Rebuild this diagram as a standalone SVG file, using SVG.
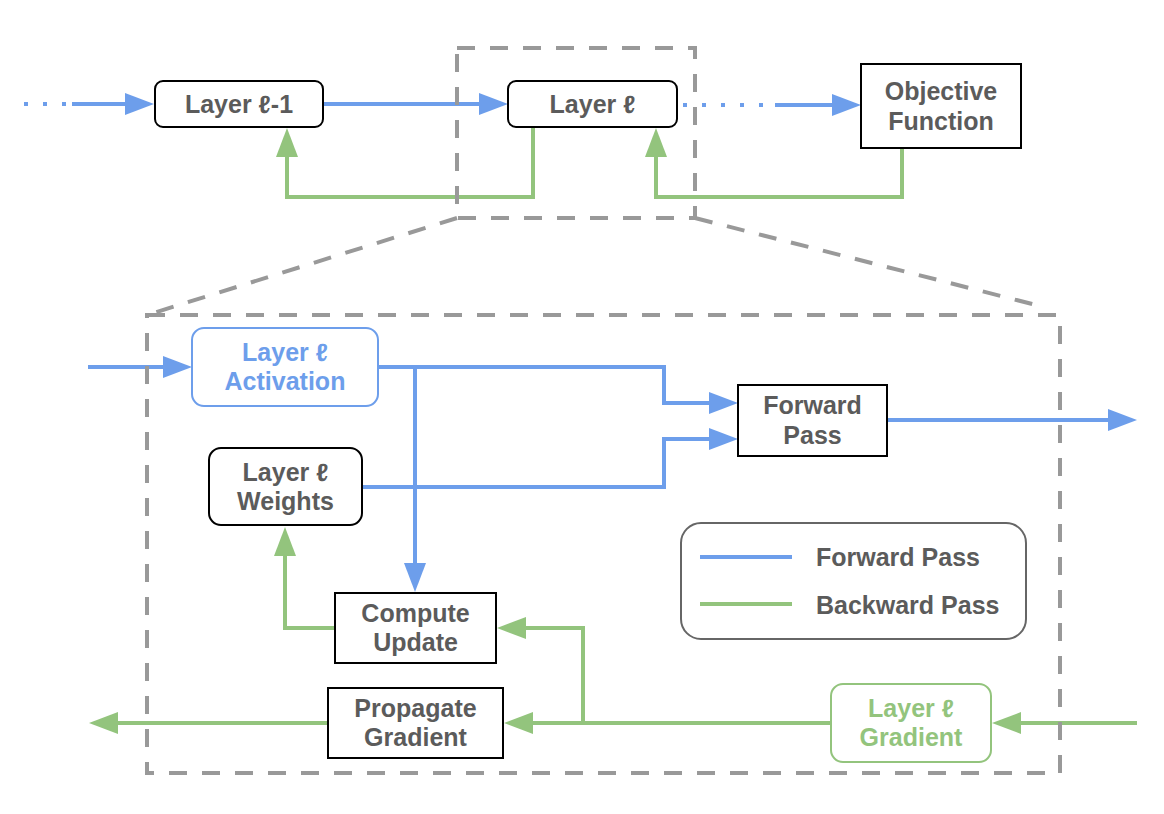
<svg xmlns="http://www.w3.org/2000/svg" width="1164" height="814" viewBox="0 0 1164 814">
<style>
.t{font-family:"Liberation Sans",Arial,sans-serif;font-weight:bold;font-size:25px;fill:#5b5b5b;text-anchor:middle}
.tl{text-anchor:start}
.tb{fill:#6d9eeb}
.tg{fill:#93c47d}
.box{fill:#fff;stroke:#000;stroke-width:2}
.fw{fill:none;stroke:#6d9eeb;stroke-width:4}
.bw{fill:none;stroke:#93c47d;stroke-width:4}
.dot{stroke-dasharray:4 15}
.frame{fill:none;stroke:#999;stroke-width:4;stroke-dasharray:18 15}
</style>
<defs>
<marker id="ab" markerUnits="userSpaceOnUse" markerWidth="30" markerHeight="24" refX="21" refY="11" orient="auto"><path d="M0,0 L29,11 L0,22 z" fill="#6d9eeb"/></marker>
<marker id="ag" markerUnits="userSpaceOnUse" markerWidth="30" markerHeight="24" refX="21" refY="11" orient="auto"><path d="M0,0 L29,11 L0,22 z" fill="#93c47d"/></marker>
</defs>
<rect width="1164" height="814" fill="#fff"/>
<g id="connectors">
<path class="fw dot" d="M24,104 H72"/>
<path class="fw" d="M72,104 H146" marker-end="url(#ab)"/>
<path class="fw" d="M324,104 H500" marker-end="url(#ab)"/>
<path class="fw dot" d="M683,105 H775"/>
<path class="fw" d="M775,105 H853" marker-end="url(#ab)"/>
<path class="bw" d="M533,127 V197 H287 V136" marker-end="url(#ag)"/>
<path class="bw" d="M902,148 V197 H656 V136" marker-end="url(#ag)"/>
<path class="fw" d="M88,367 H184" marker-end="url(#ab)"/>
<path class="fw" d="M378,367 H664 V403 H730" marker-end="url(#ab)"/>
<path class="fw" d="M415,367 V584" marker-end="url(#ab)"/>
<path class="fw" d="M362,487 H664 V439 H730" marker-end="url(#ab)"/>
<path class="fw" d="M887,420 H1129" marker-end="url(#ab)"/>
<path class="bw" d="M1137,723 H1000" marker-end="url(#ag)"/>
<path class="bw" d="M831,723 H512" marker-end="url(#ag)"/>
<path class="bw" d="M583,723 V628 H505" marker-end="url(#ag)"/>
<path class="bw" d="M335,628 H285 V535" marker-end="url(#ag)"/>
<path class="bw" d="M328,723 H97" marker-end="url(#ag)"/>
</g>
<g id="zoom-frame">
<rect class="frame" x="457" y="48" width="238" height="170"/>
<path class="frame" d="M457,218 L147,315"/>
<path class="frame" d="M695,218 L1036,305"/>
<rect class="frame" x="147" y="315" width="913" height="458"/>
</g>
<g id="layer-l-1">
<rect class="box" x="155" y="81" width="168" height="46" rx="8"/>
<text class="t" x="239" y="113">Layer ℓ-1</text>
</g>
<g id="layer-l">
<rect class="box" x="508" y="81" width="169" height="46" rx="8"/>
<text class="t" x="592.5" y="113">Layer ℓ</text>
</g>
<g id="objective">
<rect class="box" x="861" y="64" width="160" height="84"/>
<text class="t" x="941" y="100">Objective</text>
<text class="t" x="941" y="130">Function</text>
</g>
<g id="activation">
<rect x="192" y="328" width="186" height="78" rx="12" fill="#fff" stroke="#6d9eeb" stroke-width="2"/>
<text class="t tb" x="285" y="361">Layer ℓ</text>
<text class="t tb" x="285" y="390">Activation</text>
</g>
<g id="weights">
<rect class="box" x="209" y="448" width="153" height="77" rx="12"/>
<text class="t" x="285.5" y="480.5">Layer ℓ</text>
<text class="t" x="285.5" y="510">Weights</text>
</g>
<g id="forward-pass">
<rect class="box" x="738" y="385" width="149" height="71"/>
<text class="t" x="812.5" y="414">Forward</text>
<text class="t" x="812.5" y="444">Pass</text>
</g>
<g id="compute-update">
<rect class="box" x="335" y="593" width="161" height="70"/>
<text class="t" x="415.5" y="622">Compute</text>
<text class="t" x="415.5" y="651">Update</text>
</g>
<g id="propagate-gradient">
<rect class="box" x="328" y="688" width="175" height="70"/>
<text class="t" x="415.5" y="717">Propagate</text>
<text class="t" x="415.5" y="746">Gradient</text>
</g>
<g id="gradient">
<rect x="831" y="684" width="160" height="78" rx="12" fill="#fff" stroke="#93c47d" stroke-width="2"/>
<text class="t tg" x="911" y="717">Layer ℓ</text>
<text class="t tg" x="911" y="746">Gradient</text>
</g>
<g id="legend">
<rect x="681" y="523" width="345" height="116" rx="20" fill="#fff" stroke="#666" stroke-width="2"/>
<path class="fw" d="M700,557 H792"/>
<path class="bw" d="M700,604 H792"/>
<text class="t tl" x="816" y="566">Forward Pass</text>
<text class="t tl" x="816" y="614">Backward Pass</text>
</g>
</svg>
